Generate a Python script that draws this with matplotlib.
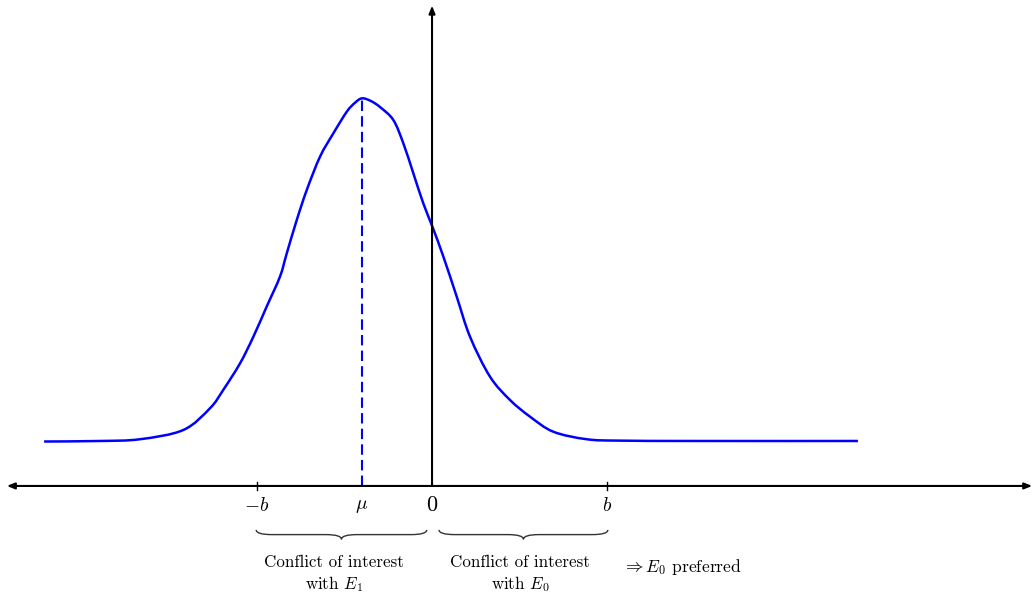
import matplotlib

matplotlib.use("Agg")
import matplotlib.pyplot as plt
import numpy as np
from matplotlib.path import Path
from matplotlib.patches import PathPatch

plt.rcParams["mathtext.fontset"] = "cm"
plt.rcParams["font.family"] = "serif"
plt.rcParams["font.serif"] = ["cmr10", "DejaVu Serif"]
plt.rcParams["axes.formatter.use_mathtext"] = True

# curve in units of b
curve_x = [-2.217, -1.897, -1.669, -1.421, -1.269, -1.193, -1.097, -1.021, -0.945,
           -0.869, -0.830, -0.773, -0.716, -0.640, -0.564, -0.487, -0.440, -0.400,
           -0.350, -0.297, -0.221, -0.164, -0.107, -0.050, 0.002, 0.065, 0.141, 0.217,
           0.331, 0.446, 0.560, 0.693, 0.884, 1.074, 1.531, 2.434]
curve_y = [0.254, 0.257, 0.267, 0.320, 0.444, 0.549, 0.701, 0.853, 1.025,
           1.196, 1.330, 1.520, 1.691, 1.882, 2.015, 2.139, 2.190, 2.215,
           2.200, 2.165, 2.091, 1.958, 1.787, 1.615, 1.482, 1.310, 1.082, 0.853,
           0.625, 0.491, 0.396, 0.310, 0.267, 0.259, 0.257, 0.257]

b = 1.0
mu = -0.40
mu_peak = 2.215
tick_pos = [-b, b]
tick_labels = [r"$-b$", r"$b$"]

BLUE = "#0000ff"


def smooth_path(xs, ys):
    # Catmull-Rom through the points, drawn as cubic Beziers
    p = np.column_stack([xs, ys])
    p = np.vstack([p[0], p, p[-1]])
    verts = [tuple(p[1])]
    codes = [Path.MOVETO]
    for i in range(1, len(p) - 2):
        c1 = p[i] + (p[i + 1] - p[i - 1]) / 6
        c2 = p[i + 1] - (p[i + 2] - p[i]) / 6
        verts += [tuple(c1), tuple(c2), tuple(p[i + 1])]
        codes += [Path.CURVE4] * 3
    return Path(verts, codes)


def brace(ax, x0, x1, y, h=0.027, r=0.09):
    xm = (x0 + x1) / 2
    verts = [
        (x0, y), (x0, y - h), (x0 + r, y - h),
        (xm - r, y - h), (xm, y - h), (xm, y - 2 * h),
        (xm, y - h), (xm + r, y - h),
        (x1 - r, y - h), (x1, y - h), (x1, y),
    ]
    codes = [Path.MOVETO, Path.CURVE3, Path.CURVE3,
             Path.LINETO, Path.CURVE3, Path.CURVE3,
             Path.CURVE3, Path.CURVE3,
             Path.LINETO, Path.CURVE3, Path.CURVE3]
    ax.add_patch(PathPatch(Path(verts, codes), fill=False, lw=1.0, color="#333333"))


fig = plt.figure(figsize=(10.31, 5.99), dpi=100)
ax = fig.add_axes([0, 0, 1, 1])
ax.set_xlim(-2.469, 3.423)
ax.set_ylim(-0.646, 2.777)
ax.axis("off")

ax.annotate("", xy=(3.43, 0), xytext=(-2.43, 0), annotation_clip=False,
            arrowprops=dict(arrowstyle="<|-|>,head_length=0.45,head_width=0.18", lw=1.5,
                            color="black", shrinkA=0, shrinkB=0))
ax.annotate("", xy=(0, 2.745), xytext=(0, 0), annotation_clip=False,
            arrowprops=dict(arrowstyle="-|>,head_length=0.45,head_width=0.18", lw=1.5,
                            color="black", shrinkA=0, shrinkB=0))

ax.add_patch(PathPatch(smooth_path(curve_x, curve_y), fill=False, lw=1.8, edgecolor=BLUE))
ax.plot([mu, mu], [0, mu_peak], color=BLUE, lw=1.5, ls=(0, (5, 2.5)))

for t in tick_pos:
    ax.plot([t, t], [-0.025, 0.025], color="black", lw=1.0)

for t, lab in zip(tick_pos, tick_labels):
    ax.text(t, -0.065, lab, ha="center", va="top", fontsize=14)
ax.text(mu, -0.065, r"$\mu$", ha="center", va="top", fontsize=14)
ax.text(0, -0.055, r"$0$", ha="center", va="top", fontsize=16)

brace(ax, -b - 0.005, -0.03, -0.251)
brace(ax, 0.04, b + 0.005, -0.251)

ax.text(-0.56, -0.505, "Conflict of interest\nwith $E_1$", ha="center", va="center",
        fontsize=12.2, linespacing=1.25)
ax.text(0.505, -0.505, "Conflict of interest\nwith $E_0$", ha="center", va="center",
        fontsize=12.2, linespacing=1.25)
ax.text(1.086, -0.463, r"$\Rightarrow E_0$ preferred", ha="left", va="center", fontsize=12.6)

fig.savefig("out.png", dpi=100)
